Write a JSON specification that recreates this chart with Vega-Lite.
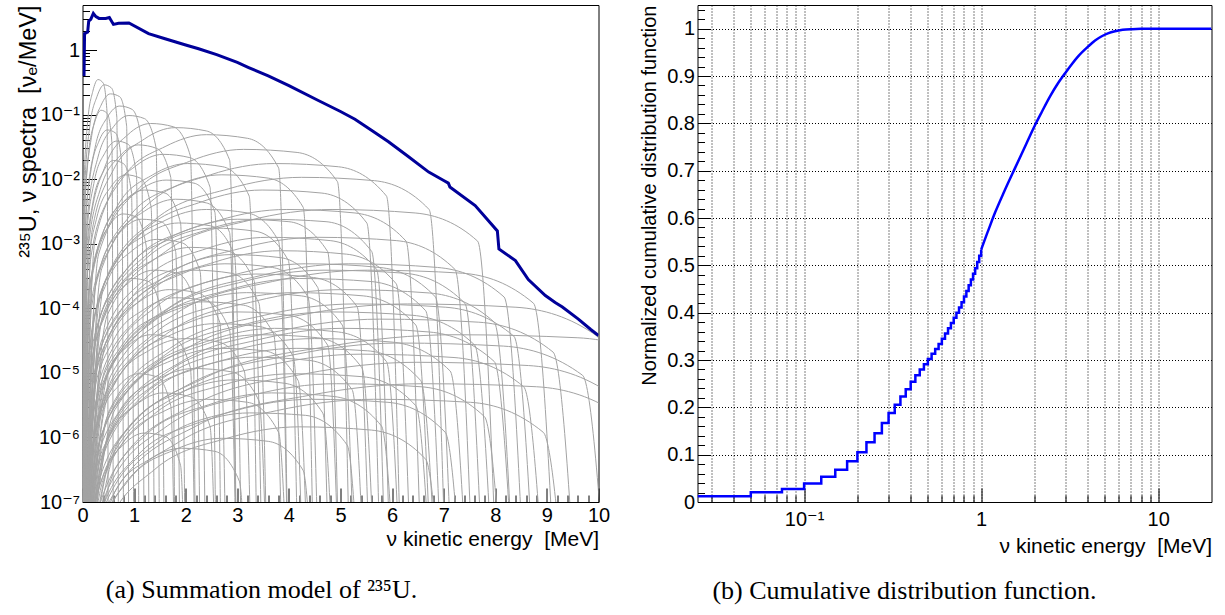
{
"$schema":"https://vega.github.io/schema/vega-lite/v6.json",
"padding":{"left":15.5,"top":3,"right":0,"bottom":0},
"spacing":99,
"bounds":"flush",
"config":{"view":{"stroke":"#000","strokeWidth":1},"axis":{"labelFont":"Liberation Sans, DejaVu Sans","titleFont":"Liberation Sans, DejaVu Sans","labelFontSize":20,"titleFontSize":21,"labelColor":"#000","titleColor":"#000","titleFontWeight":"normal","domain":false,"tickColor":"#000","labelOverlap":false,"labelFlush":false}},
"datasets":{
"grey":[
{"c":1,"x":0,"y":1e-9},{"c":1,"x":0.03,"y":0.0082},{"c":1,"x":0.1,"y":0.078},{"c":1,"x":0.2,"y":0.23},{"c":1,"x":0.3,"y":0.35},{"c":1,"x":0.4,"y":0.31},{"c":1,"x":0.475,"y":0.11},{"c":1,"x":0.5,"y":1e-9},
{"c":2,"x":0,"y":1e-9},{"c":2,"x":0.042,"y":0.0069},{"c":2,"x":0.14,"y":0.065},{"c":2,"x":0.28,"y":0.19},{"c":2,"x":0.42,"y":0.29},{"c":2,"x":0.56,"y":0.26},{"c":2,"x":0.665,"y":0.092},{"c":2,"x":0.7,"y":1e-9},
{"c":3,"x":0,"y":1e-9},{"c":3,"x":0.054,"y":0.005},{"c":3,"x":0.18,"y":0.048},{"c":3,"x":0.36,"y":0.14},{"c":3,"x":0.54,"y":0.21},{"c":3,"x":0.72,"y":0.19},{"c":3,"x":0.855,"y":0.067},{"c":3,"x":0.9,"y":1e-9},
{"c":4,"x":0,"y":1e-9},{"c":4,"x":0.072,"y":0.0032},{"c":4,"x":0.24,"y":0.03},{"c":4,"x":0.48,"y":0.091},{"c":4,"x":0.72,"y":0.136},{"c":4,"x":0.96,"y":0.121},{"c":4,"x":1.14,"y":0.043},{"c":4,"x":1.2,"y":1e-9},
{"c":5,"x":0,"y":1e-9},{"c":5,"x":0.09,"y":0.0023},{"c":5,"x":0.3,"y":0.022},{"c":5,"x":0.6,"y":0.065},{"c":5,"x":0.9,"y":0.097},{"c":5,"x":1.2,"y":0.087},{"c":5,"x":1.425,"y":0.031},{"c":5,"x":1.5,"y":1e-9},
{"c":6,"x":0,"y":1e-9},{"c":6,"x":0.132,"y":0.0017},{"c":6,"x":0.44,"y":0.016},{"c":6,"x":0.88,"y":0.049},{"c":6,"x":1.32,"y":0.073},{"c":6,"x":1.76,"y":0.065},{"c":6,"x":2.09,"y":0.023},{"c":6,"x":2.2,"y":1e-9},
{"c":7,"x":0,"y":1e-9},{"c":7,"x":0.18,"y":0.0015},{"c":7,"x":0.6,"y":0.014},{"c":7,"x":1.2,"y":0.042},{"c":7,"x":1.8,"y":0.063},{"c":7,"x":2.4,"y":0.056},{"c":7,"x":2.85,"y":0.02},{"c":7,"x":3.0,"y":1e-9},
{"c":8,"x":0,"y":1e-9},{"c":8,"x":0.24,"y":0.0011},{"c":8,"x":0.8,"y":0.011},{"c":8,"x":1.6,"y":0.032},{"c":8,"x":2.4,"y":0.049},{"c":8,"x":3.2,"y":0.043},{"c":8,"x":3.8,"y":0.015},{"c":8,"x":4.0,"y":1e-9},
{"c":9,"x":0,"y":1e-9},{"c":9,"x":0.312,"y":0.00069},{"c":9,"x":1.04,"y":0.0065},{"c":9,"x":2.08,"y":0.019},{"c":9,"x":3.12,"y":0.029},{"c":9,"x":4.16,"y":0.026},{"c":9,"x":4.94,"y":0.0092},{"c":9,"x":5.2,"y":1e-9},
{"c":10,"x":0,"y":1e-9},{"c":10,"x":0.372,"y":0.00041},{"c":10,"x":1.24,"y":0.0039},{"c":10,"x":2.48,"y":0.0117},{"c":10,"x":3.72,"y":0.0175},{"c":10,"x":4.96,"y":0.0156},{"c":10,"x":5.89,"y":0.0055},{"c":10,"x":6.2,"y":1e-9},
{"c":11,"x":0,"y":1e-9},{"c":11,"x":0.424,"y":0.00025},{"c":11,"x":1.414,"y":0.0024},{"c":11,"x":2.828,"y":0.0071},{"c":11,"x":4.242,"y":0.0107},{"c":11,"x":5.656,"y":0.0095},{"c":11,"x":6.717,"y":0.0034},{"c":11,"x":7.07,"y":1e-9},
{"c":12,"x":0,"y":1e-9},{"c":12,"x":0.484,"y":8e-5},{"c":12,"x":1.612,"y":0.00076},{"c":12,"x":3.224,"y":0.0023},{"c":12,"x":4.836,"y":0.0034},{"c":12,"x":6.448,"y":0.003},{"c":12,"x":7.657,"y":0.0011},{"c":12,"x":8.06,"y":1e-9},
{"c":13,"x":0,"y":1e-9},{"c":13,"x":0.552,"y":9.2e-6},{"c":13,"x":1.84,"y":8.6e-5},{"c":13,"x":3.68,"y":0.00026},{"c":13,"x":5.52,"y":0.00039},{"c":13,"x":7.36,"y":0.00035},{"c":13,"x":8.74,"y":0.00012},{"c":13,"x":9.2,"y":1e-9},
{"c":14,"x":0,"y":1e-9},{"c":14,"x":0.63,"y":2.7e-6},{"c":14,"x":2.1,"y":2.6e-5},{"c":14,"x":4.2,"y":7.8e-5},{"c":14,"x":6.3,"y":0.000117},{"c":14,"x":8.4,"y":0.000104},{"c":14,"x":9.975,"y":3.7e-5},{"c":14,"x":10.5,"y":1e-9},
{"c":15,"x":0,"y":1e-9},{"c":15,"x":0.72,"y":9.2e-7},{"c":15,"x":2.4,"y":8.6e-6},{"c":15,"x":4.8,"y":2.6e-5},{"c":15,"x":7.2,"y":3.9e-5},{"c":15,"x":9.6,"y":3.5e-5},{"c":15,"x":11.4,"y":1.2e-5},{"c":15,"x":12,"y":1e-9},
{"c":16,"x":0,"y":1e-9},{"c":16,"x":0.108,"y":0.0008},{"c":16,"x":0.36,"y":0.0076},{"c":16,"x":0.72,"y":0.0227},{"c":16,"x":1.08,"y":0.034},{"c":16,"x":1.44,"y":0.03},{"c":16,"x":1.71,"y":0.0107},{"c":16,"x":1.8,"y":1e-9},
{"c":17,"x":0,"y":1e-9},{"c":17,"x":0.156,"y":0.00057},{"c":17,"x":0.52,"y":0.0054},{"c":17,"x":1.04,"y":0.0162},{"c":17,"x":1.56,"y":0.0243},{"c":17,"x":2.08,"y":0.0216},{"c":17,"x":2.47,"y":0.0076},{"c":17,"x":2.6,"y":1e-9},
{"c":18,"x":0,"y":1e-9},{"c":18,"x":0.204,"y":0.00041},{"c":18,"x":0.68,"y":0.0039},{"c":18,"x":1.36,"y":0.0117},{"c":18,"x":2.04,"y":0.0175},{"c":18,"x":2.72,"y":0.0156},{"c":18,"x":3.23,"y":0.0055},{"c":18,"x":3.4,"y":1e-9},
{"c":19,"x":0,"y":1e-9},{"c":19,"x":0.27,"y":0.00027},{"c":19,"x":0.9,"y":0.0026},{"c":19,"x":1.8,"y":0.0078},{"c":19,"x":2.7,"y":0.0117},{"c":19,"x":3.6,"y":0.0104},{"c":19,"x":4.275,"y":0.0037},{"c":19,"x":4.5,"y":1e-9},
{"c":20,"x":0,"y":1e-9},{"c":20,"x":0.348,"y":0.00016},{"c":20,"x":1.16,"y":0.0015},{"c":20,"x":2.32,"y":0.0045},{"c":20,"x":3.48,"y":0.0068},{"c":20,"x":4.64,"y":0.0061},{"c":20,"x":5.51,"y":0.0021},{"c":20,"x":5.8,"y":1e-9},
{"c":21,"x":0,"y":1e-9},{"c":21,"x":0.396,"y":8e-5},{"c":21,"x":1.32,"y":0.00076},{"c":21,"x":2.64,"y":0.0023},{"c":21,"x":3.96,"y":0.0034},{"c":21,"x":5.28,"y":0.003},{"c":21,"x":6.27,"y":0.0011},{"c":21,"x":6.6,"y":1e-9},
{"c":22,"x":0,"y":1e-9},{"c":22,"x":0.456,"y":3e-5},{"c":22,"x":1.52,"y":0.00028},{"c":22,"x":3.04,"y":0.00084},{"c":22,"x":4.56,"y":0.00126},{"c":22,"x":6.08,"y":0.00112},{"c":22,"x":7.22,"y":0.0004},{"c":22,"x":7.6,"y":1e-9},
{"c":23,"x":0,"y":1e-9},{"c":23,"x":0.516,"y":1.1e-5},{"c":23,"x":1.72,"y":0.000108},{"c":23,"x":3.44,"y":0.00032},{"c":23,"x":5.16,"y":0.00049},{"c":23,"x":6.88,"y":0.00043},{"c":23,"x":8.17,"y":0.00015},{"c":23,"x":8.6,"y":1e-9},
{"c":24,"x":0,"y":1e-9},{"c":24,"x":0.12,"y":0.00016},{"c":24,"x":0.4,"y":0.0015},{"c":24,"x":0.8,"y":0.0045},{"c":24,"x":1.2,"y":0.0068},{"c":24,"x":1.6,"y":0.0061},{"c":24,"x":1.9,"y":0.0021},{"c":24,"x":2.0,"y":1e-9},
{"c":25,"x":0,"y":1e-9},{"c":25,"x":0.18,"y":0.00011},{"c":25,"x":0.6,"y":0.00108},{"c":25,"x":1.2,"y":0.0032},{"c":25,"x":1.8,"y":0.0049},{"c":25,"x":2.4,"y":0.0043},{"c":25,"x":2.85,"y":0.0015},{"c":25,"x":3.0,"y":1e-9},
{"c":26,"x":0,"y":1e-9},{"c":26,"x":0.24,"y":8e-5},{"c":26,"x":0.8,"y":0.00076},{"c":26,"x":1.6,"y":0.0023},{"c":26,"x":2.4,"y":0.0034},{"c":26,"x":3.2,"y":0.003},{"c":26,"x":3.8,"y":0.0011},{"c":26,"x":4.0,"y":1e-9},
{"c":27,"x":0,"y":1e-9},{"c":27,"x":0.3,"y":5.7e-5},{"c":27,"x":1.0,"y":0.00054},{"c":27,"x":2.0,"y":0.0016},{"c":27,"x":3.0,"y":0.0024},{"c":27,"x":4.0,"y":0.0022},{"c":27,"x":4.75,"y":0.00076},{"c":27,"x":5.0,"y":1e-9},
{"c":28,"x":0,"y":1e-9},{"c":28,"x":0.36,"y":3e-5},{"c":28,"x":1.2,"y":0.00028},{"c":28,"x":2.4,"y":0.00084},{"c":28,"x":3.6,"y":0.00126},{"c":28,"x":4.8,"y":0.00112},{"c":28,"x":5.7,"y":0.0004},{"c":28,"x":6.0,"y":1e-9},
{"c":29,"x":0,"y":1e-9},{"c":29,"x":0.432,"y":1.1e-5},{"c":29,"x":1.44,"y":0.000108},{"c":29,"x":2.88,"y":0.00032},{"c":29,"x":4.32,"y":0.00049},{"c":29,"x":5.76,"y":0.00043},{"c":29,"x":6.84,"y":0.00015},{"c":29,"x":7.2,"y":1e-9},
{"c":30,"x":0,"y":1e-9},{"c":30,"x":0.504,"y":4.6e-6},{"c":30,"x":1.68,"y":4.3e-5},{"c":30,"x":3.36,"y":0.00013},{"c":30,"x":5.04,"y":0.000195},{"c":30,"x":6.72,"y":0.000173},{"c":30,"x":7.98,"y":6.1e-5},{"c":30,"x":8.4,"y":1e-9},
{"c":31,"x":0,"y":1e-9},{"c":31,"x":0.576,"y":1.6e-6},{"c":31,"x":1.92,"y":1.5e-5},{"c":31,"x":3.84,"y":4.5e-5},{"c":31,"x":5.76,"y":6.8e-5},{"c":31,"x":7.68,"y":6.1e-5},{"c":31,"x":9.12,"y":2.1e-5},{"c":31,"x":9.6,"y":1e-9},
{"c":32,"x":0,"y":1e-9},{"c":32,"x":0.144,"y":2.7e-5},{"c":32,"x":0.48,"y":0.00026},{"c":32,"x":0.96,"y":0.00078},{"c":32,"x":1.44,"y":0.00117},{"c":32,"x":1.92,"y":0.00104},{"c":32,"x":2.28,"y":0.00037},{"c":32,"x":2.4,"y":1e-9},
{"c":33,"x":0,"y":1e-9},{"c":33,"x":0.21,"y":2.1e-5},{"c":33,"x":0.7,"y":0.00019},{"c":33,"x":1.4,"y":0.00058},{"c":33,"x":2.1,"y":0.00088},{"c":33,"x":2.8,"y":0.00078},{"c":33,"x":3.325,"y":0.00027},{"c":33,"x":3.5,"y":1e-9},
{"c":34,"x":0,"y":1e-9},{"c":34,"x":0.276,"y":1.1e-5},{"c":34,"x":0.92,"y":0.000108},{"c":34,"x":1.84,"y":0.00032},{"c":34,"x":2.76,"y":0.00049},{"c":34,"x":3.68,"y":0.00043},{"c":34,"x":4.37,"y":0.00015},{"c":34,"x":4.6,"y":1e-9},
{"c":35,"x":0,"y":1e-9},{"c":35,"x":0.336,"y":8e-6},{"c":35,"x":1.12,"y":7.6e-5},{"c":35,"x":2.24,"y":0.00023},{"c":35,"x":3.36,"y":0.00034},{"c":35,"x":4.48,"y":0.0003},{"c":35,"x":5.32,"y":0.000107},{"c":35,"x":5.6,"y":1e-9},
{"c":36,"x":0,"y":1e-9},{"c":36,"x":0.408,"y":4.1e-6},{"c":36,"x":1.36,"y":3.9e-5},{"c":36,"x":2.72,"y":0.000117},{"c":36,"x":4.08,"y":0.000175},{"c":36,"x":5.44,"y":0.000156},{"c":36,"x":6.46,"y":5.5e-5},{"c":36,"x":6.8,"y":1e-9},
{"c":37,"x":0,"y":1e-9},{"c":37,"x":0.48,"y":2.1e-6},{"c":37,"x":1.6,"y":1.9e-5},{"c":37,"x":3.2,"y":5.8e-5},{"c":37,"x":4.8,"y":8.8e-5},{"c":37,"x":6.4,"y":7.8e-5},{"c":37,"x":7.6,"y":2.7e-5},{"c":37,"x":8.0,"y":1e-9},
{"c":38,"x":0,"y":1e-9},{"c":38,"x":0.612,"y":6.9e-7},{"c":38,"x":2.04,"y":6.5e-6},{"c":38,"x":4.08,"y":1.9e-5},{"c":38,"x":6.12,"y":2.9e-5},{"c":38,"x":8.16,"y":2.6e-5},{"c":38,"x":9.69,"y":9.2e-6},{"c":38,"x":10.2,"y":1e-9},
{"c":39,"x":0,"y":1e-9},{"c":39,"x":0.096,"y":6.9e-6},{"c":39,"x":0.32,"y":6.5e-5},{"c":39,"x":0.64,"y":0.00019},{"c":39,"x":0.96,"y":0.00029},{"c":39,"x":1.28,"y":0.00026},{"c":39,"x":1.52,"y":9.2e-5},{"c":39,"x":1.6,"y":1e-9},
{"c":40,"x":0,"y":1e-9},{"c":40,"x":0.168,"y":4.6e-6},{"c":40,"x":0.56,"y":4.3e-5},{"c":40,"x":1.12,"y":0.00013},{"c":40,"x":1.68,"y":0.000195},{"c":40,"x":2.24,"y":0.000173},{"c":40,"x":2.66,"y":6.1e-5},{"c":40,"x":2.8,"y":1e-9},
{"c":41,"x":0,"y":1e-9},{"c":41,"x":0.234,"y":3e-6},{"c":41,"x":0.78,"y":2.8e-5},{"c":41,"x":1.56,"y":8.4e-5},{"c":41,"x":2.34,"y":0.000126},{"c":41,"x":3.12,"y":0.000112},{"c":41,"x":3.705,"y":4e-5},{"c":41,"x":3.9,"y":1e-9},
{"c":42,"x":0,"y":1e-9},{"c":42,"x":0.3,"y":2.1e-6},{"c":42,"x":1.0,"y":1.9e-5},{"c":42,"x":2.0,"y":5.8e-5},{"c":42,"x":3.0,"y":8.8e-5},{"c":42,"x":4.0,"y":7.8e-5},{"c":42,"x":4.75,"y":2.7e-5},{"c":42,"x":5.0,"y":1e-9},
{"c":43,"x":0,"y":1e-9},{"c":43,"x":0.372,"y":1.1e-6},{"c":43,"x":1.24,"y":1.08e-5},{"c":43,"x":2.48,"y":3.2e-5},{"c":43,"x":3.72,"y":4.9e-5},{"c":43,"x":4.96,"y":4.3e-5},{"c":43,"x":5.89,"y":1.5e-5},{"c":43,"x":6.2,"y":1e-9},
{"c":44,"x":0,"y":1e-9},{"c":44,"x":0.45,"y":8e-7},{"c":44,"x":1.5,"y":7.6e-6},{"c":44,"x":3.0,"y":2.3e-5},{"c":44,"x":4.5,"y":3.4e-5},{"c":44,"x":6.0,"y":3e-5},{"c":44,"x":7.125,"y":1.07e-5},{"c":44,"x":7.5,"y":1e-9},
{"c":45,"x":0,"y":1e-9},{"c":45,"x":0.54,"y":4.6e-7},{"c":45,"x":1.8,"y":4.3e-6},{"c":45,"x":3.6,"y":1.3e-5},{"c":45,"x":5.4,"y":1.95e-5},{"c":45,"x":7.2,"y":1.73e-5},{"c":45,"x":8.55,"y":6.1e-6},{"c":45,"x":9.0,"y":1e-9},
{"c":46,"x":0,"y":1e-9},{"c":46,"x":0.132,"y":9.2e-7},{"c":46,"x":0.44,"y":8.6e-6},{"c":46,"x":0.88,"y":2.6e-5},{"c":46,"x":1.32,"y":3.9e-5},{"c":46,"x":1.76,"y":3.5e-5},{"c":46,"x":2.09,"y":1.2e-5},{"c":46,"x":2.2,"y":1e-9},
{"c":47,"x":0,"y":1e-9},{"c":47,"x":0.198,"y":8e-7},{"c":47,"x":0.66,"y":7.6e-6},{"c":47,"x":1.32,"y":2.3e-5},{"c":47,"x":1.98,"y":3.4e-5},{"c":47,"x":2.64,"y":3e-5},{"c":47,"x":3.135,"y":1.07e-5},{"c":47,"x":3.3,"y":1e-9},
{"c":48,"x":0,"y":1e-9},{"c":48,"x":0.264,"y":5.7e-7},{"c":48,"x":0.88,"y":5.4e-6},{"c":48,"x":1.76,"y":1.6e-5},{"c":48,"x":2.64,"y":2.4e-5},{"c":48,"x":3.52,"y":2.2e-5},{"c":48,"x":4.18,"y":7.6e-6},{"c":48,"x":4.4,"y":1e-9},
{"c":49,"x":0,"y":1e-9},{"c":49,"x":0.33,"y":4.1e-7},{"c":49,"x":1.1,"y":3.9e-6},{"c":49,"x":2.2,"y":1.17e-5},{"c":49,"x":3.3,"y":1.75e-5},{"c":49,"x":4.4,"y":1.56e-5},{"c":49,"x":5.225,"y":5.5e-6},{"c":49,"x":5.5,"y":1e-9},
{"c":50,"x":0,"y":1e-9},{"c":50,"x":0.408,"y":2.3e-7},{"c":50,"x":1.36,"y":2.2e-6},{"c":50,"x":2.72,"y":6.5e-6},{"c":50,"x":4.08,"y":9.7e-6},{"c":50,"x":5.44,"y":8.7e-6},{"c":50,"x":6.46,"y":3.1e-6},{"c":50,"x":6.8,"y":1e-9},
{"c":51,"x":0,"y":1e-9},{"c":51,"x":0.492,"y":1.6e-7},{"c":51,"x":1.64,"y":1.5e-6},{"c":51,"x":3.28,"y":4.5e-6},{"c":51,"x":4.92,"y":6.8e-6},{"c":51,"x":6.56,"y":6.1e-6},{"c":51,"x":7.79,"y":2.1e-6},{"c":51,"x":8.2,"y":1e-9},
{"c":52,"x":0,"y":1e-9},{"c":52,"x":0.156,"y":1.1e-7},{"c":52,"x":0.52,"y":1.08e-6},{"c":52,"x":1.04,"y":3.2e-6},{"c":52,"x":1.56,"y":4.9e-6},{"c":52,"x":2.08,"y":4.3e-6},{"c":52,"x":2.47,"y":1.5e-6},{"c":52,"x":2.6,"y":1e-9},
{"c":53,"x":0,"y":1e-9},{"c":53,"x":0.24,"y":9.2e-8},{"c":53,"x":0.8,"y":8.6e-7},{"c":53,"x":1.6,"y":2.6e-6},{"c":53,"x":2.4,"y":3.9e-6},{"c":53,"x":3.2,"y":3.5e-6},{"c":53,"x":3.8,"y":1.2e-6},{"c":53,"x":4.0,"y":1e-9},
{"c":54,"x":0,"y":1e-9},{"c":54,"x":0.324,"y":5.7e-8},{"c":54,"x":1.08,"y":5.4e-7},{"c":54,"x":2.16,"y":1.6e-6},{"c":54,"x":3.24,"y":2.4e-6},{"c":54,"x":4.32,"y":2.2e-6},{"c":54,"x":5.13,"y":7.6e-7},{"c":54,"x":5.4,"y":1e-9},
{"c":55,"x":0,"y":1e-9},{"c":55,"x":0.42,"y":3.4e-8},{"c":55,"x":1.4,"y":3.2e-7},{"c":55,"x":2.8,"y":9.7e-7},{"c":55,"x":4.2,"y":1.46e-6},{"c":55,"x":5.6,"y":1.3e-6},{"c":55,"x":6.65,"y":4.6e-7},{"c":55,"x":7.0,"y":1e-9},
{"c":56,"x":0,"y":1e-9},{"c":56,"x":0.06,"y":0.00046},{"c":56,"x":0.2,"y":0.0043},{"c":56,"x":0.4,"y":0.013},{"c":56,"x":0.6,"y":0.0195},{"c":56,"x":0.8,"y":0.0173},{"c":56,"x":0.95,"y":0.0061},{"c":56,"x":1.0,"y":1e-9},
{"c":57,"x":0,"y":1e-9},{"c":57,"x":0.078,"y":6.9e-5},{"c":57,"x":0.26,"y":0.00065},{"c":57,"x":0.52,"y":0.0019},{"c":57,"x":0.78,"y":0.0029},{"c":57,"x":1.04,"y":0.0026},{"c":57,"x":1.235,"y":0.00092},{"c":57,"x":1.3,"y":1e-9},
{"c":58,"x":0,"y":1e-9},{"c":58,"x":0.192,"y":1.6e-8},{"c":58,"x":0.64,"y":1.5e-7},{"c":58,"x":1.28,"y":4.5e-7},{"c":58,"x":1.92,"y":6.8e-7},{"c":58,"x":2.56,"y":6.1e-7},{"c":58,"x":3.04,"y":2.1e-7},{"c":58,"x":3.2,"y":1e-9},
{"c":59,"x":0,"y":1e-9},{"c":59,"x":0.66,"y":1.6e-7},{"c":59,"x":2.2,"y":1.5e-6},{"c":59,"x":4.4,"y":4.5e-6},{"c":59,"x":6.6,"y":6.8e-6},{"c":59,"x":8.8,"y":6.1e-6},{"c":59,"x":10.45,"y":2.1e-6},{"c":59,"x":11,"y":1e-9},
{"c":60,"x":0,"y":1e-9},{"c":60,"x":0.564,"y":9.2e-8},{"c":60,"x":1.88,"y":8.6e-7},{"c":60,"x":3.76,"y":2.6e-6},{"c":60,"x":5.64,"y":3.9e-6},{"c":60,"x":7.52,"y":3.5e-6},{"c":60,"x":8.93,"y":1.2e-6},{"c":60,"x":9.4,"y":1e-9},
{"c":61,"x":0,"y":1e-9},{"c":61,"x":0.036,"y":0.0027},{"c":61,"x":0.12,"y":0.026},{"c":61,"x":0.24,"y":0.078},{"c":61,"x":0.36,"y":0.117},{"c":61,"x":0.48,"y":0.104},{"c":61,"x":0.57,"y":0.037},{"c":61,"x":0.6,"y":1e-9},
{"c":62,"x":0,"y":1e-9},{"c":62,"x":0.048,"y":0.0014},{"c":62,"x":0.16,"y":0.013},{"c":62,"x":0.32,"y":0.039},{"c":62,"x":0.48,"y":0.058},{"c":62,"x":0.64,"y":0.052},{"c":62,"x":0.76,"y":0.018},{"c":62,"x":0.8,"y":1e-9},
{"c":63,"x":0,"y":1e-9},{"c":63,"x":0.066,"y":0.00092},{"c":63,"x":0.22,"y":0.0086},{"c":63,"x":0.44,"y":0.026},{"c":63,"x":0.66,"y":0.039},{"c":63,"x":0.88,"y":0.035},{"c":63,"x":1.045,"y":0.012},{"c":63,"x":1.1,"y":1e-9},
{"c":64,"x":0,"y":1e-9},{"c":64,"x":0.084,"y":0.00027},{"c":64,"x":0.28,"y":0.0026},{"c":64,"x":0.56,"y":0.0078},{"c":64,"x":0.84,"y":0.0117},{"c":64,"x":1.12,"y":0.0104},{"c":64,"x":1.33,"y":0.0037},{"c":64,"x":1.4,"y":1e-9},
{"c":65,"x":0,"y":1e-9},{"c":65,"x":0.114,"y":5.7e-5},{"c":65,"x":0.38,"y":0.00054},{"c":65,"x":0.76,"y":0.0016},{"c":65,"x":1.14,"y":0.0024},{"c":65,"x":1.52,"y":0.0022},{"c":65,"x":1.805,"y":0.00076},{"c":65,"x":1.9,"y":1e-9},
{"c":66,"x":0,"y":1e-9},{"c":66,"x":0.138,"y":9.2e-6},{"c":66,"x":0.46,"y":8.6e-5},{"c":66,"x":0.92,"y":0.00026},{"c":66,"x":1.38,"y":0.00039},{"c":66,"x":1.84,"y":0.00035},{"c":66,"x":2.185,"y":0.00012},{"c":66,"x":2.3,"y":1e-9},
{"c":67,"x":0,"y":1e-9},{"c":67,"x":0.162,"y":0.00023},{"c":67,"x":0.54,"y":0.0022},{"c":67,"x":1.08,"y":0.0065},{"c":67,"x":1.62,"y":0.0097},{"c":67,"x":2.16,"y":0.0087},{"c":67,"x":2.565,"y":0.0031},{"c":67,"x":2.7,"y":1e-9},
{"c":68,"x":0,"y":1e-9},{"c":68,"x":0.186,"y":5e-5},{"c":68,"x":0.62,"y":0.00048},{"c":68,"x":1.24,"y":0.0014},{"c":68,"x":1.86,"y":0.0021},{"c":68,"x":2.48,"y":0.0019},{"c":68,"x":2.945,"y":0.00067},{"c":68,"x":3.1,"y":1e-9},
{"c":69,"x":0,"y":1e-9},{"c":69,"x":0.216,"y":9.2e-6},{"c":69,"x":0.72,"y":8.6e-5},{"c":69,"x":1.44,"y":0.00026},{"c":69,"x":2.16,"y":0.00039},{"c":69,"x":2.88,"y":0.00035},{"c":69,"x":3.42,"y":0.00012},{"c":69,"x":3.6,"y":1e-9},
{"c":70,"x":0,"y":1e-9},{"c":70,"x":0.252,"y":4.1e-5},{"c":70,"x":0.84,"y":0.00039},{"c":70,"x":1.68,"y":0.00117},{"c":70,"x":2.52,"y":0.00175},{"c":70,"x":3.36,"y":0.00156},{"c":70,"x":3.99,"y":0.00055},{"c":70,"x":4.2,"y":1e-9},
{"c":71,"x":0,"y":1e-9},{"c":71,"x":0.288,"y":1.6e-5},{"c":71,"x":0.96,"y":0.00015},{"c":71,"x":1.92,"y":0.00045},{"c":71,"x":2.88,"y":0.00068},{"c":71,"x":3.84,"y":0.00061},{"c":71,"x":4.56,"y":0.00021},{"c":71,"x":4.8,"y":1e-9},
{"c":72,"x":0,"y":1e-9},{"c":72,"x":0.318,"y":4.1e-6},{"c":72,"x":1.06,"y":3.9e-5},{"c":72,"x":2.12,"y":0.000117},{"c":72,"x":3.18,"y":0.000175},{"c":72,"x":4.24,"y":0.000156},{"c":72,"x":5.035,"y":5.5e-5},{"c":72,"x":5.3,"y":1e-9},
{"c":73,"x":0,"y":1e-9},{"c":73,"x":0.354,"y":5.7e-5},{"c":73,"x":1.18,"y":0.00054},{"c":73,"x":2.36,"y":0.0016},{"c":73,"x":3.54,"y":0.0024},{"c":73,"x":4.72,"y":0.0022},{"c":73,"x":5.605,"y":0.00076},{"c":73,"x":5.9,"y":1e-9},
{"c":74,"x":0,"y":1e-9},{"c":74,"x":0.384,"y":1.8e-5},{"c":74,"x":1.28,"y":0.000173},{"c":74,"x":2.56,"y":0.00052},{"c":74,"x":3.84,"y":0.00078},{"c":74,"x":5.12,"y":0.00069},{"c":74,"x":6.08,"y":0.00024},{"c":74,"x":6.4,"y":1e-9},
{"c":75,"x":0,"y":1e-9},{"c":75,"x":0.42,"y":6.9e-6},{"c":75,"x":1.4,"y":6.5e-5},{"c":75,"x":2.8,"y":0.00019},{"c":75,"x":4.2,"y":0.00029},{"c":75,"x":5.6,"y":0.00026},{"c":75,"x":6.65,"y":9.2e-5},{"c":75,"x":7.0,"y":1e-9},
{"c":76,"x":0,"y":1e-9},{"c":76,"x":0.468,"y":9.2e-6},{"c":76,"x":1.56,"y":8.6e-5},{"c":76,"x":3.12,"y":0.00026},{"c":76,"x":4.68,"y":0.00039},{"c":76,"x":6.24,"y":0.00035},{"c":76,"x":7.41,"y":0.00012},{"c":76,"x":7.8,"y":1e-9},
{"c":77,"x":0,"y":1e-9},{"c":77,"x":0.528,"y":2.7e-6},{"c":77,"x":1.76,"y":2.6e-5},{"c":77,"x":3.52,"y":7.8e-5},{"c":77,"x":5.28,"y":0.000117},{"c":77,"x":7.04,"y":0.000104},{"c":77,"x":8.36,"y":3.7e-5},{"c":77,"x":8.8,"y":1e-9},
{"c":78,"x":0,"y":1e-9},{"c":78,"x":0.18,"y":3.4e-6},{"c":78,"x":0.6,"y":3.2e-5},{"c":78,"x":1.2,"y":9.7e-5},{"c":78,"x":1.8,"y":0.000146},{"c":78,"x":2.4,"y":0.00013},{"c":78,"x":2.85,"y":4.6e-5},{"c":78,"x":3.0,"y":1e-9},
{"c":79,"x":0,"y":1e-9},{"c":79,"x":0.258,"y":1.4e-6},{"c":79,"x":0.86,"y":1.3e-5},{"c":79,"x":1.72,"y":3.9e-5},{"c":79,"x":2.58,"y":5.8e-5},{"c":79,"x":3.44,"y":5.2e-5},{"c":79,"x":4.085,"y":1.8e-5},{"c":79,"x":4.3,"y":1e-9},
{"c":80,"x":0,"y":1e-9},{"c":80,"x":0.342,"y":9.2e-7},{"c":80,"x":1.14,"y":8.6e-6},{"c":80,"x":2.28,"y":2.6e-5},{"c":80,"x":3.42,"y":3.9e-5},{"c":80,"x":4.56,"y":3.5e-5},{"c":80,"x":5.415,"y":1.2e-5},{"c":80,"x":5.7,"y":1e-9},
{"c":81,"x":0,"y":1e-9},{"c":81,"x":0.414,"y":5.7e-7},{"c":81,"x":1.38,"y":5.4e-6},{"c":81,"x":2.76,"y":1.6e-5},{"c":81,"x":4.14,"y":2.4e-5},{"c":81,"x":5.52,"y":2.2e-5},{"c":81,"x":6.555,"y":7.6e-6},{"c":81,"x":6.9,"y":1e-9},
{"c":82,"x":0,"y":1e-9},{"c":82,"x":0.504,"y":1.1e-6},{"c":82,"x":1.68,"y":1.08e-5},{"c":82,"x":3.36,"y":3.2e-5},{"c":82,"x":5.04,"y":4.9e-5},{"c":82,"x":6.72,"y":4.3e-5},{"c":82,"x":7.98,"y":1.5e-5},{"c":82,"x":8.4,"y":1e-9},
{"c":83,"x":0,"y":1e-9},{"c":83,"x":0.108,"y":2.3e-7},{"c":83,"x":0.36,"y":2.2e-6},{"c":83,"x":0.72,"y":6.5e-6},{"c":83,"x":1.08,"y":9.7e-6},{"c":83,"x":1.44,"y":8.7e-6},{"c":83,"x":1.71,"y":3.1e-6},{"c":83,"x":1.8,"y":1e-9},
{"c":84,"x":0,"y":1e-9},{"c":84,"x":0.216,"y":2.7e-7},{"c":84,"x":0.72,"y":2.6e-6},{"c":84,"x":1.44,"y":7.8e-6},{"c":84,"x":2.16,"y":1.17e-5},{"c":84,"x":2.88,"y":1.04e-5},{"c":84,"x":3.42,"y":3.7e-6},{"c":84,"x":3.6,"y":1e-9},
{"c":85,"x":0,"y":1e-9},{"c":85,"x":0.294,"y":1.8e-7},{"c":85,"x":0.98,"y":1.7e-6},{"c":85,"x":1.96,"y":5.2e-6},{"c":85,"x":2.94,"y":7.8e-6},{"c":85,"x":3.92,"y":6.9e-6},{"c":85,"x":4.655,"y":2.4e-6},{"c":85,"x":4.9,"y":1e-9},
{"c":86,"x":0,"y":1e-9},{"c":86,"x":0.366,"y":1.1e-7},{"c":86,"x":1.22,"y":1.08e-6},{"c":86,"x":2.44,"y":3.2e-6},{"c":86,"x":3.66,"y":4.9e-6},{"c":86,"x":4.88,"y":4.3e-6},{"c":86,"x":5.795,"y":1.5e-6},{"c":86,"x":6.1,"y":1e-9},
{"c":87,"x":0,"y":1e-9},{"c":87,"x":0.444,"y":9.2e-8},{"c":87,"x":1.48,"y":8.6e-7},{"c":87,"x":2.96,"y":2.6e-6},{"c":87,"x":4.44,"y":3.9e-6},{"c":87,"x":5.92,"y":3.5e-6},{"c":87,"x":7.03,"y":1.2e-6},{"c":87,"x":7.4,"y":1e-9},
{"c":88,"x":0,"y":1e-9},{"c":88,"x":0.12,"y":2.7e-8},{"c":88,"x":0.4,"y":2.6e-7},{"c":88,"x":0.8,"y":7.8e-7},{"c":88,"x":1.2,"y":1.17e-6},{"c":88,"x":1.6,"y":1.04e-6},{"c":88,"x":1.9,"y":3.7e-7},{"c":88,"x":2.0,"y":1e-9},
{"c":89,"x":0,"y":1e-9},{"c":89,"x":0.27,"y":2.3e-8},{"c":89,"x":0.9,"y":2.2e-7},{"c":89,"x":1.8,"y":6.5e-7},{"c":89,"x":2.7,"y":9.7e-7},{"c":89,"x":3.6,"y":8.7e-7},{"c":89,"x":4.275,"y":3.1e-7},{"c":89,"x":4.5,"y":1e-9},
{"c":90,"x":0,"y":1e-9},{"c":90,"x":0.648,"y":3.4e-7},{"c":90,"x":2.16,"y":3.2e-6},{"c":90,"x":4.32,"y":9.7e-6},{"c":90,"x":6.48,"y":1.46e-5},{"c":90,"x":8.64,"y":1.3e-5},{"c":90,"x":10.26,"y":4.6e-6},{"c":90,"x":10.8,"y":1e-9}
],
"blue":[
{"x":0,"y":0.42},{"x":0.03,"y":0.42},{"x":0.04,"y":1.8},{"x":0.1,"y":1.9},{"x":0.12,"y":2.8},{"x":0.16,"y":3.0},{"x":0.21,"y":3.7},{"x":0.26,"y":3.3},{"x":0.32,"y":3.1},{"x":0.45,"y":3.1},{"x":0.52,"y":3.2},{"x":0.6,"y":2.5},{"x":0.7,"y":2.6},{"x":0.9,"y":2.63},{"x":1.28,"y":1.8},{"x":1.6,"y":1.5},{"x":2.0,"y":1.2},{"x":2.25,"y":1.05},{"x":2.6,"y":0.85},{"x":3.0,"y":0.645},{"x":3.22,"y":0.537},{"x":3.6,"y":0.398},{"x":4.0,"y":0.282},{"x":4.57,"y":0.166},{"x":5.0,"y":0.112},{"x":5.28,"y":0.0851},{"x":5.6,"y":0.0575},{"x":5.93,"y":0.038},{"x":6.3,"y":0.0229},{"x":6.71,"y":0.0129},{"x":7.0,"y":0.00955},{"x":7.09,"y":0.0087},{"x":7.12,"y":0.0076},{"x":7.61,"y":0.0039},{"x":8.04,"y":0.00158},{"x":8.07,"y":0.00083},{"x":8.39,"y":0.00055},{"x":8.64,"y":0.00028},{"x":8.97,"y":0.000158},{"x":9.16,"y":0.000123},{"x":9.3,"y":0.000105},{"x":9.61,"y":6.8e-5},{"x":9.85,"y":4.7e-5},{"x":10,"y":3.8e-5}
],
"cdfs":[
{"x":0.025,"y":0.012},{"x":0.05,"y":0.0205},{"x":0.075,"y":0.0275},{"x":0.1,"y":0.039},{"x":0.125,"y":0.0535},{"x":0.15,"y":0.068},{"x":0.175,"y":0.086},{"x":0.2,"y":0.105},{"x":0.225,"y":0.126},{"x":0.25,"y":0.145},{"x":0.275,"y":0.167},{"x":0.3,"y":0.188},{"x":0.325,"y":0.2055},{"x":0.35,"y":0.223},{"x":0.375,"y":0.238},{"x":0.4,"y":0.254},{"x":0.425,"y":0.268},{"x":0.45,"y":0.28},{"x":0.475,"y":0.291},{"x":0.5,"y":0.302},{"x":0.525,"y":0.313},{"x":0.55,"y":0.323},{"x":0.575,"y":0.334},{"x":0.6,"y":0.345},{"x":0.625,"y":0.356},{"x":0.65,"y":0.367},{"x":0.675,"y":0.378},{"x":0.7,"y":0.389},{"x":0.725,"y":0.4},{"x":0.75,"y":0.411},{"x":0.775,"y":0.422},{"x":0.8,"y":0.434},{"x":0.825,"y":0.446},{"x":0.85,"y":0.458},{"x":0.875,"y":0.47},{"x":0.9,"y":0.482},{"x":0.925,"y":0.494},{"x":0.95,"y":0.507},{"x":0.975,"y":0.52},{"x":1.0,"y":0.533}
],
"cdfl":[
{"x":1.0,"y":0.533},{"x":1.05,"y":0.555},{"x":1.1,"y":0.575},{"x":1.2,"y":0.612},{"x":1.35,"y":0.656},{"x":1.56,"y":0.707},{"x":1.8,"y":0.757},{"x":2.02,"y":0.797},{"x":2.2,"y":0.824},{"x":2.45,"y":0.857},{"x":2.7,"y":0.883},{"x":2.98,"y":0.906},{"x":3.25,"y":0.925},{"x":3.54,"y":0.942},{"x":4.04,"y":0.963},{"x":4.4,"y":0.975},{"x":4.8,"y":0.984},{"x":5.2,"y":0.99},{"x":5.7,"y":0.9945},{"x":6.3,"y":0.9975},{"x":7.1,"y":0.999},{"x":8,"y":0.9997},{"x":10,"y":1.0},{"x":20,"y":1.0}
]
},
"hconcat":[
{
"width":516,"height":497,
"title":{"text":"(a) Summation model of ²³⁵U.","orient":"bottom","anchor":"middle","frame":"group","dx":-79,"offset":28,"font":"Liberation Serif, DejaVu Serif","fontSize":26,"fontWeight":"normal","color":"#000"},
"encoding":{
"x":{"field":"x","type":"quantitative","scale":{"domain":[0,10],"nice":false,"zero":false},
"axis":{"values":[0,0.2,0.4,0.6,0.8,1,1.2,1.4,1.6,1.8,2,2.2,2.4,2.6,2.8,3,3.2,3.4,3.6,3.8,4,4.2,4.4,4.6,4.8,5,5.2,5.4,5.6,5.8,6,6.2,6.4,6.6,6.8,7,7.2,7.4,7.6,7.8,8,8.2,8.4,8.6,8.8,9,9.2,9.4,9.6,9.8,10],
"labelExpr":"datum.value % 1 == 0 ? '' + datum.value : ''",
"tickSize":{"condition":{"test":"datum.value % 1 == 0","value":-14},"value":-7},
"labelPadding":17,"title":"ν kinetic energy \u00a0[MeV]","titleAnchor":"end","titlePadding":-4,"grid":false}},
"y":{"field":"y","type":"quantitative","scale":{"type":"log","domain":[1e-7,5],"nice":false},
"axis":{"values":[1e-7,2e-7,3e-7,4e-7,5e-7,6e-7,7e-7,8e-7,9e-7,1e-6,2e-6,3e-6,4e-6,5e-6,6e-6,7e-6,8e-6,9e-6,1e-5,2e-5,3e-5,4e-5,5e-5,6e-5,7e-5,8e-5,9e-5,1e-4,2e-4,3e-4,4e-4,5e-4,6e-4,7e-4,8e-4,9e-4,1e-3,2e-3,3e-3,4e-3,5e-3,6e-3,7e-3,8e-3,9e-3,0.01,0.02,0.03,0.04,0.05,0.06,0.07,0.08,0.09,0.1,0.2,0.3,0.4,0.5,0.6,0.7,0.8,0.9,1,2,3,4,5],
"labelExpr":"abs(log(datum.value)/LN10 - round(log(datum.value)/LN10)) > 0.01 ? '' : (datum.value > 0.5 ? '1' : '10' + ['','⁻¹','⁻²','⁻³','⁻⁴','⁻⁵','⁻⁶','⁻⁷'][-round(log(datum.value)/LN10)])",
"labelFontSize":{"condition":{"test":"abs(log(datum.value)/LN10 - round(log(datum.value)/LN10)) < 0.01","value":20},"value":1},
"tickSize":{"condition":{"test":"abs(log(datum.value)/LN10 - round(log(datum.value)/LN10)) < 0.01","value":-14},"value":-7},
"labelPadding":17,"title":"²³⁵U, ν spectra \u00a0[νₑ/MeV]","titleFontSize":23.5,"titleAnchor":"end","titlePadding":-2,"grid":false}}
},
"layer":[
{"data":{"name":"grey"},"mark":{"type":"line","interpolate":"monotone","clip":true,"color":"#a3a3a3","strokeWidth":1},"encoding":{"detail":{"field":"c","type":"nominal"}}},
{"data":{"name":"blue"},"mark":{"type":"line","clip":true,"color":"#000099","strokeWidth":3},"encoding":{}}
]
},
{
"width":514,"height":497,
"title":{"text":"(b) Cumulative distribution function.","orient":"bottom","anchor":"middle","frame":"group","dx":-50,"offset":22,"font":"Liberation Serif, DejaVu Serif","fontSize":26,"fontWeight":"normal","color":"#000"},
"encoding":{
"x":{"field":"x","type":"quantitative","scale":{"type":"log","domain":[0.025,20],"nice":false},
"axis":{"values":[0.03,0.04,0.05,0.06,0.07,0.08,0.09,0.1,0.2,0.3,0.4,0.5,0.6,0.7,0.8,0.9,1,2,3,4,5,6,7,8,9,10],
"labelExpr":"datum.value == 0.1 ? '10⁻¹' : (datum.value == 1 ? '1' : (datum.value == 10 ? '10' : ''))",
"tickSize":{"condition":{"test":"datum.value == 0.1 || datum.value == 1 || datum.value == 10","value":-14},"value":-7},
"labelPadding":21,"title":"ν kinetic energy \u00a0[MeV]","titleAnchor":"end","titlePadding":-1,
"grid":true,"gridColor":"#000","gridDash":[1,2],"gridWidth":1}},
"y":{"field":"y","type":"quantitative","scale":{"domain":[0,1.05],"nice":false,"zero":false},
"axis":{"values":[0,0.02,0.04,0.06,0.08,0.1,0.12,0.14,0.16,0.18,0.2,0.22,0.24,0.26,0.28,0.3,0.32,0.34,0.36,0.38,0.4,0.42,0.44,0.46,0.48,0.5,0.52,0.54,0.56,0.58,0.6,0.62,0.64,0.66,0.68,0.7,0.72,0.74,0.76,0.78,0.8,0.82,0.84,0.86,0.88,0.9,0.92,0.94,0.96,0.98,1,1.02,1.04],
"labelExpr":"abs(datum.value*10 - round(datum.value*10)) < 0.001 && datum.value < 1.01 ? format(datum.value, '~g') : ''",
"labelFontSize":{"condition":{"test":"abs(datum.value*10 - round(datum.value*10)) < 0.001 && datum.value < 1.01","value":20},"value":1},
"tickSize":{"condition":{"test":"abs(datum.value*10 - round(datum.value*10)) < 0.001","value":-13},"value":-7},
"labelPadding":16,"title":"Normalized cumulative distribution function","titleFontSize":20,"titleAnchor":"end","titlePadding":7,
"grid":true,"gridColor":"#000","gridDash":[1,2],"gridWidth":1,
"gridOpacity":{"condition":{"test":"abs(datum.value*10 - round(datum.value*10)) < 0.001","value":1},"value":0}}}
},
"layer":[
{"data":{"name":"cdfs"},"mark":{"type":"line","interpolate":"step-after","clip":true,"color":"#0000ff","strokeWidth":2.5},"encoding":{}},
{"data":{"name":"cdfl"},"mark":{"type":"line","interpolate":"monotone","clip":true,"color":"#0000ff","strokeWidth":2.5},"encoding":{}}
]
}
]
}
